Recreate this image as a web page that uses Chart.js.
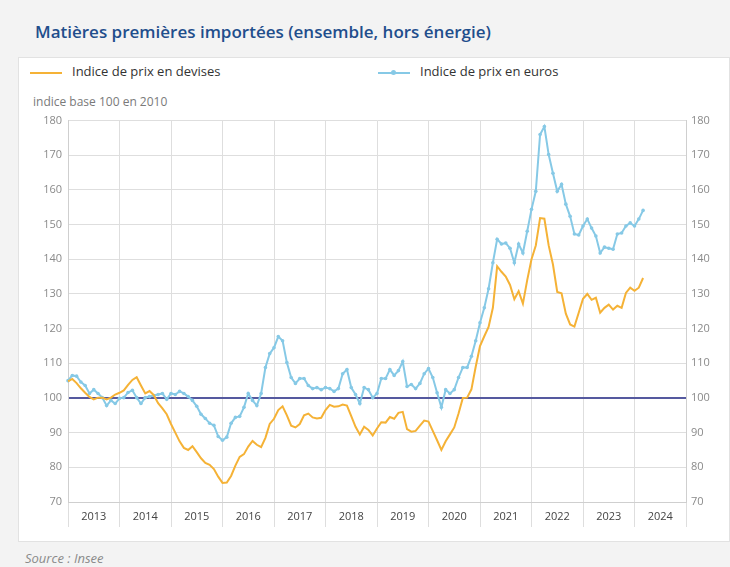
<!DOCTYPE html>
<html lang="fr">
<head>
<meta charset="utf-8">
<title>Matières premières importées</title>
<script src="https://cdn.jsdelivr.net/npm/chart.js@4.4.1/dist/chart.umd.min.js"></script>
<style>
  html, body { margin: 0; padding: 0; }
  body {
    width: 730px; height: 567px; position: relative; overflow: hidden;
    background: #f3f3f3; font-family: "Open Sans", sans-serif;
  }
  h1 {
    position: absolute; left: 35px; top: 20px; margin: 0;
    font-size: 17px; font-weight: 600; color: #1f4e8c; white-space: nowrap;
  }
  .card {
    position: absolute; left: 18px; top: 57px; width: 712px; height: 485px;
    background: #fff; border: 1px solid #e2e2e2; box-sizing: border-box;
  }
  .leg { position: absolute; top: 63px; font-size: 13px; color: #333; white-space: nowrap; }
  .leg .sw { position: absolute; top: 9px; width: 32px; height: 2px; }
  .leg .dot { position: absolute; left: 13px; top: -2px; width: 5px; height: 5px; border-radius: 50%; }
  .leg span.txt { position: absolute; left: 42px; top: -1px; }
  #unit { position: absolute; left: 33px; top: 93px; font-size: 12px; color: #7a7a7a; }
  #source { position: absolute; left: 25px; top: 549px; font-size: 13px; font-style: italic; color: #8a8a8a; }
  canvas { position: absolute; left: 18px; top: 108px; }
</style>
</head>
<body>
<h1>Matières premières importées (ensemble, hors énergie)</h1>
<div class="card"></div>
<div id="legend"></div>
<div id="unit">indice base 100 en 2010</div>
<canvas id="chart" width="712" height="430"></canvas>
<div id="source">Source : Insee</div>

<script>
// années affichées sous l'axe (12 mois par année)
const years = ['2013', '2014', '2015', '2016', '2017', '2018', '2019', '2020', '2021', '2022', '2023', '2024'];

// indice de prix en devises, mensuel, janv. 2013 -> mars 2024
const devises = [
  104.8, 105.5, 104.3, 102.8, 101.5, 100.3, 99.6, 100.1, 100.1, 99.6, 100.1, 101,
  101.5, 102.2, 103.8, 105.2, 106, 103.6, 101.3, 102, 100.8, 98.5, 97, 95.3,
  92.5, 90, 87.5, 85.6, 85, 86.1, 84.4, 82.6, 81.3, 80.7, 79.5, 77.3,
  75.5, 75.6, 77.5, 80.5, 83, 83.8, 86, 87.6, 86.5, 85.8, 88.5, 92.5,
  94, 96.5, 97.6, 95, 92, 91.5, 92.5, 95, 95.5, 94.4, 94.1, 94.3,
  96.5, 98, 97.5, 97.6, 98.1, 97.8, 94.8, 91.7, 89.5, 91.7, 90.8, 89.2,
  91.2, 93, 92.9, 94.5, 94, 95.7, 96, 91, 90.3, 90.5, 92, 93.5,
  93.2, 90.5, 87.8, 85, 87.5, 89.5, 91.5, 95.5, 100, 100.1, 102.5, 109,
  115, 117.8, 120.5, 126, 138, 136.4, 135, 132.6, 128.5, 130.8, 127.2, 134,
  140, 144, 151.9, 151.7, 144, 138.5, 130.6, 130.2, 124.3, 121.2, 120.6, 124.6,
  128.6, 130, 128.3, 128.9, 124.6, 126, 126.9, 125.5, 126.6, 126, 130.3, 131.8,
  130.9, 131.8, 134.6
];

// indice de prix en euros
const euros = [
  105, 106.5, 106.3, 104.6, 103.6, 101.3, 102.4, 101.3, 100.1, 97.8, 99.3, 98.4,
  99.9, 100.1, 101.6, 102.2, 100.1, 98.4, 100.1, 100.4, 100.7, 101, 101.3, 99.6,
  101.3, 101, 101.9, 101.3, 100.4, 99.3, 97.6, 95.3, 94.1, 92.7, 92.1, 88.9,
  87.8, 88.7, 92.7, 94.4, 94.7, 97.3, 101.3, 99.3, 97.8, 101.3, 108.8, 112.8,
  114.5, 117.7, 116.5, 110.2, 105.9, 104.2, 105.6, 105.6, 103.6, 102.7, 103, 102.4,
  103, 102.7, 101.9, 102.7, 107, 108.2, 103, 101, 98.4, 103, 102.4, 100.1,
  101.3, 105.6, 105.6, 108.2, 106.5, 107.9, 110.5, 103.3, 103.9, 102.7, 104.2, 107,
  108.5, 105.9, 101.5, 97.3, 102.4, 101.3, 102.4, 105.9, 108.8, 108.8, 112, 116.5,
  121.7, 126, 131.5, 139, 145.8, 144.4, 144.7, 143.2, 139, 144.4, 141.8, 148.1,
  154.4, 159.6, 176, 178.3, 170.2, 164.8, 159.6, 161.6, 155.9, 152.4, 147.3, 147,
  149.6, 151.6, 149, 146.7, 141.8, 143.5, 143.2, 142.9, 147.3, 147.6, 149.6, 150.5,
  149.6, 151.6, 154.1
];

const yTicks = [70, 80, 90, 100, 110, 120, 130, 140, 150, 160, 170, 180];
const baseLine = 100;

const orange = '#f5b236';
const blue = '#86c9e6';
const gridColor = '#dedede';

// une étiquette par mois + la borne de fin (janv. 2025) pour le dernier trait
var labels = [];
years.forEach(y => {
    for (var m = 1; m <= 12; m++) labels.push(y + '-' + String(m).padStart(2, '0'));
});
labels.push('2025-01');

const ctx = document.getElementById('chart').getContext('2d');

var chart = new Chart(ctx, {
    type: 'line',
    data: {
        labels: labels,
        datasets: [
            {
                label: 'Indice de prix en devises',
                data: devises,
                borderColor: orange,
                backgroundColor: orange,
                borderWidth: 2,
                pointRadius: 0,
                tension: 0
            },
            {
                label: 'Indice de prix en euros',
                data: euros,
                borderColor: blue,
                backgroundColor: blue,
                borderWidth: 2,
                pointRadius: 1.8,
                pointBorderWidth: 0,
                pointBackgroundColor: blue,
                tension: 0
            }
        ]
    },
    options: {
        responsive: false,
        animation: false,
        devicePixelRatio: 1,
        layout: { padding: { top: 11 } },
        plugins: {
            legend: { display: false },
            tooltip: { enabled: false }
        },
        scales: {
            x: {
                type: 'category',
                grid: {
                    color: c => c.index % 12 === 0 ? gridColor : 'transparent',
                    tickColor: c => c.index % 12 === 0 ? gridColor : 'transparent',
                    tickLength: 25
                },
                border: { color: '#cfcfcf' },
                ticks: {
                    autoSkip: false,
                    maxRotation: 0,
                    padding: -17,
                    color: '#444',
                    font: { family: 'Open Sans', size: 11 },
                    callback: (v, i) => i % 12 === 6 ? years[Math.floor(i / 12)] : ''
                },
                afterFit: a => { a.height = 36; }
            },
            y: {
                position: 'left',
                min: yTicks[0],
                max: yTicks[yTicks.length - 1],
                afterBuildTicks: a => { a.ticks = yTicks.map(v => ({ value: v })); },
                grid: {
                    color: c => c.tick.value === baseLine ? '#55599f' : gridColor,
                    lineWidth: c => c.tick.value === baseLine ? 2 : 1,
                    drawTicks: false
                },
                border: { color: '#cfcfcf' },
                ticks: { padding: 6, color: '#8a8a8a', font: { family: 'Open Sans', size: 11 } },
                afterFit: a => { a.width = 50; }
            },
            y2: {
                position: 'right',
                min: yTicks[0],
                max: yTicks[yTicks.length - 1],
                afterBuildTicks: a => { a.ticks = yTicks.map(v => ({ value: v })); },
                grid: { drawOnChartArea: false, drawTicks: false },
                border: { color: '#cfcfcf' },
                ticks: { padding: 5, color: '#8a8a8a', font: { family: 'Open Sans', size: 11 } },
                afterFit: a => { a.width = 44; }
            }
        }
    }
});

// légende en html, placée comme dans l'original
const legend = document.getElementById('legend');
const legendX = [30, 378];
chart.data.datasets.forEach((ds, i) => {
    var item = document.createElement('div');
    item.className = 'leg';
    item.style.left = legendX[i] + 'px';
    var dot = ds.pointRadius > 0 ? `<i class="dot" style="background:${ds.borderColor}"></i>` : '';
    item.innerHTML = `<i class="sw" style="background:${ds.borderColor}">${dot}</i><span class="txt">${ds.label}</span>`;
    legend.appendChild(item);
});
</script>
</body>
</html>
